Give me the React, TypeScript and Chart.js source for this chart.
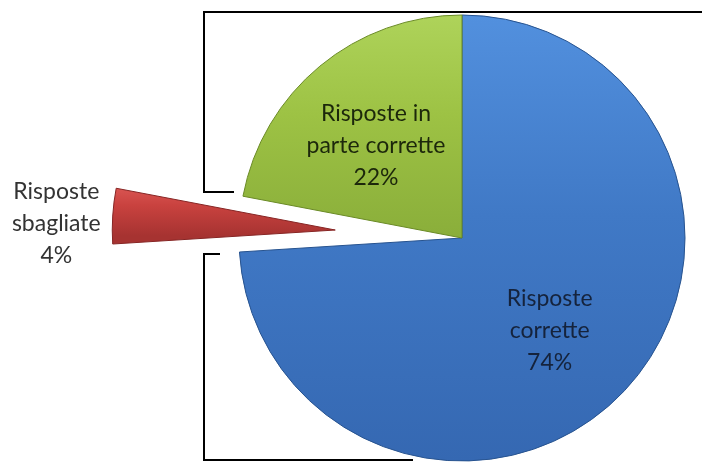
import React, { useEffect, useRef } from "react";
import { Chart, registerables } from "chart.js";

Chart.register(...registerables);

// ---- data ----
const categories = ["Risposte corrette", "Risposte sbagliate", "Risposte in parte corrette"];
const labelLines = [["Risposte", "corrette"], ["Risposte", "sbagliate"], ["Risposte in", "parte corrette"]];
const values = [74, 4, 22];
const percentLabels = ["74%", "4%", "22%"];
const explodeOffsets = [0, 127, 0];

// ---- styles ----
const lightColors = ["#5290de", "#df5c59", "#aed35a"];
const midColors = ["#4079c6", "#c9423f", "#9dc244"];
const darkColors = ["#3568b2", "#a63331", "#8aae3a"];
const edgeColors = ["#27538f", "#862524", "#6a8a26"];
const textColors = ["#15233c", "#333333", "#1c270b"];
const insideLabel = [true, false, true];
const FONT = "23px Lato, 'Open Sans', sans-serif";
const LINE_H = 32;
const RADIUS = 223;

function sliceAngles(i: number) {
  const total = values.reduce((a, b) => a + b, 0);
  let acc = 0;
  for (let k = 0; k < i; k++) acc += values[k];
  const a0 = -Math.PI / 2 + (acc / total) * 2 * Math.PI;
  const a1 = a0 + (values[i] / total) * 2 * Math.PI;
  return [a0, a1];
}

// Chart.js draws an arc translated by offset/4, enlarged by a radius term and
// narrowed in angle; compensate so the exploded slice keeps the pie's geometry.
const explodePlugin = {
  id: "explodeFix",
  beforeDatasetsDraw(chart: any) {
    const meta = chart.getDatasetMeta(0);
    meta.data.forEach((arc: any, i: number) => {
      const d = explodeOffsets[i];
      if (!d) return;
      const [a0, a1] = sliceAngles(i);
      const circ = a1 - a0;
      const fix = 1 - Math.sin(Math.min(Math.PI, circ));
      const radiusOffset = d * fix;
      arc.outerRadius = RADIUS - radiusOffset;
      const widen = radiusOffset / (Math.PI * RADIUS) / 2;
      arc.startAngle = a0 - widen;
      arc.endAngle = a1 + widen;
    });
  },
};

const framePlugin = {
  id: "frame",
  beforeDatasetsDraw(chart: any) {
    const a = chart.chartArea;
    const cx = (a.left + a.right) / 2;
    const cy = (a.top + a.bottom) / 2;
    const c = chart.ctx;
    const L = cx - 258;
    const T = cy - 226;
    const B = cy + 222;
    c.save();
    c.strokeStyle = "#000";
    c.lineWidth = 2;
    c.beginPath();
    c.moveTo(chart.width, T);
    c.lineTo(L, T);
    c.lineTo(L, cy - 46);
    c.lineTo(cx - 228, cy - 46);
    c.moveTo(cx - 242, cy + 16);
    c.lineTo(L, cy + 16);
    c.lineTo(L, B);
    c.lineTo(cx - 49, B);
    c.stroke();
    c.restore();
  },
};

const labelPlugin = {
  id: "sliceLabels",
  afterDatasetsDraw(chart: any) {
    const meta = chart.getDatasetMeta(0);
    const c = chart.ctx;
    c.save();
    c.font = FONT;
    c.textAlign = "center";
    c.textBaseline = "middle";
    meta.data.forEach((arc: any, i: number) => {
      const p = arc.getProps(["x", "y", "startAngle", "endAngle"], true);
      const mid = (p.startAngle + p.endAngle) / 2;
      const lines = [...labelLines[i], percentLabels[i]];
      let x: number, y: number;
      if (insideLabel[i]) {
        x = p.x + Math.cos(mid) * RADIUS * 0.57 - 5;
        y = p.y + Math.sin(mid) * RADIUS * 0.57 + 6;
      } else {
        const off = explodeOffsets[i];
        const ox = p.x + Math.cos(mid) * (off + RADIUS);
        const oy = p.y + Math.sin(mid) * (off + RADIUS);
        const w = Math.max(...lines.map((l) => c.measureText(l).width));
        x = ox - 12 - w / 2;
        y = oy + 8;
      }
      c.fillStyle = textColors[i];
      lines.forEach((l, k) => {
        c.fillText(l, x, y + (k - (lines.length - 1) / 2) * LINE_H);
      });
    });
    c.restore();
  },
};

function fill(ctx: any) {
  const i = ctx.dataIndex;
  const chart = ctx.chart;
  const a = chart.chartArea;
  if (!a) return midColors[i];
  const cx = (a.left + a.right) / 2;
  const cy = (a.top + a.bottom) / 2;
  const [a0, a1] = sliceAngles(i);
  const mid = (a0 + a1) / 2;
  const ox = cx + Math.cos(mid) * explodeOffsets[i];
  const oy = cy + Math.sin(mid) * explodeOffsets[i];
  const ys = [oy, oy + RADIUS * Math.sin(a0), oy + RADIUS * Math.sin(a1)];
  if (a0 < Math.PI / 2 && a1 > Math.PI / 2) ys.push(oy + RADIUS);
  if (a0 <= -Math.PI / 2 || a1 >= 1.5 * Math.PI) ys.push(oy - RADIUS);
  const y0 = Math.min(...ys);
  const y1 = Math.max(...ys);
  const g = chart.ctx.createLinearGradient(0, y0, 0, y1);
  g.addColorStop(0, lightColors[i]);
  g.addColorStop(0.45, midColors[i]);
  g.addColorStop(1, darkColors[i]);
  return g;
}

export default function App() {
  const ref = useRef<HTMLCanvasElement>(null);
  useEffect(() => {
    if (!ref.current) return;
    const chart = new Chart(ref.current, {
      type: "pie",
      data: {
        labels: categories,
        datasets: [
          {
            data: values,
            backgroundColor: fill as any,
            borderColor: edgeColors,
            borderWidth: 1,
            offset: explodeOffsets.map((o) => o * 4),
          },
        ],
      },
      options: {
        responsive: false,
        animation: false,
        radius: RADIUS,
        cutout: "0%",
        layout: { padding: { left: 222, right: 0, top: 14, bottom: 0 } },
        plugins: { legend: { display: false }, tooltip: { enabled: false } },
      } as any,
      plugins: [framePlugin, explodePlugin, labelPlugin],
    });
    return () => chart.destroy();
  }, []);
  return (
    <div style={{ position: "absolute", left: 0, top: 0, width: 702, height: 462, background: "#fff" }}>
      <canvas ref={ref} width={702} height={462} style={{ display: "block" }} />
    </div>
  );
}
